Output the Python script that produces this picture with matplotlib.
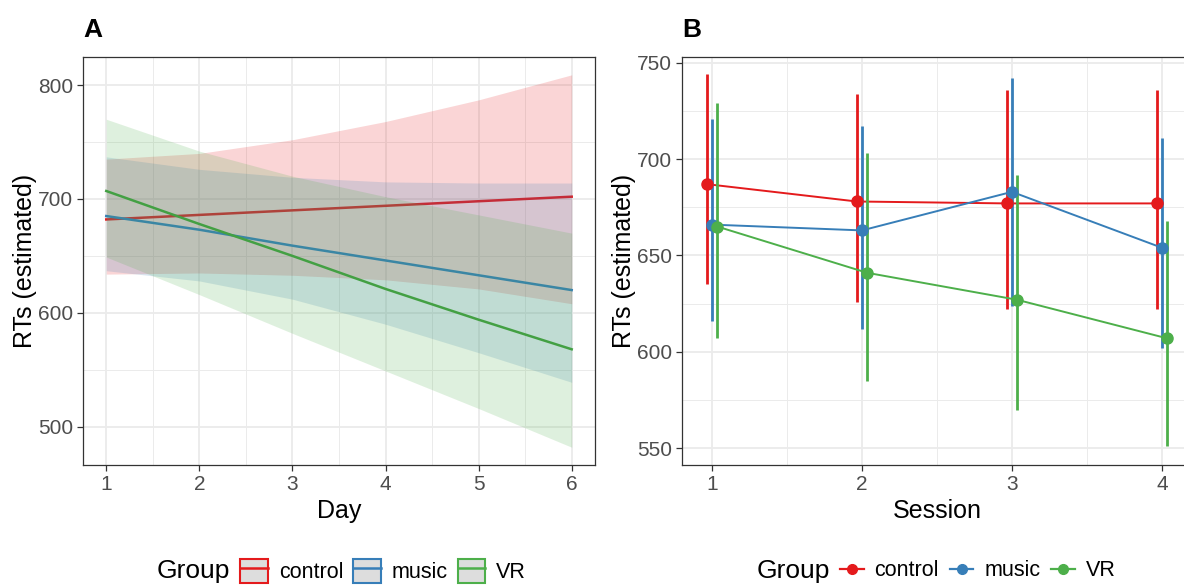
import numpy as np
import matplotlib
matplotlib.use("Agg")
import matplotlib.pyplot as plt
from matplotlib.lines import Line2D
from matplotlib.patches import Patch

plt.rcParams['font.family'] = ['Liberation Sans', 'DejaVu Sans']

# ---- data ----
groups = ["control", "music", "VR"]
colors = ["#E41A1C", "#377EB8", "#4DAF4A"]

# panel A: model estimates per day
days = [1, 2, 3, 4, 5, 6]
control_fit = [682, 686, 690, 694, 698, 702]
control_lo = [634, 635, 633, 629, 621, 608]
control_hi = [735, 740, 752, 768, 787, 809]
music_fit = [685, 673, 659, 646, 633, 620]
music_lo = [637, 628, 612, 590, 565, 539]
music_hi = [737, 726, 719, 715, 714, 714]
vr_fit = [707, 678, 650, 621, 594, 568]
vr_lo = [649, 616, 582, 549, 516, 482]
vr_hi = [770, 742, 720, 702, 686, 670]

# panel B: estimates per session with intervals
sessions = [1, 2, 3, 4]
control_est = [687, 678, 677, 677]
control_low = [635, 626, 622, 622]
control_high = [744, 734, 736, 736]
music_est = [666, 663, 683, 654]
music_low = [616, 612, 624, 602]
music_high = [721, 717, 742, 711]
vr_est = [665, 641, 627, 607]
vr_low = [607, 585, 570, 551]
vr_high = [729, 703, 692, 668]

fig = plt.figure(figsize=(11.84, 5.86), dpi=100)
axA = fig.add_axes([0.0701, 0.2065, 0.4324, 0.6967])
axB = fig.add_axes([0.576, 0.2065, 0.4307, 0.6967])

tick_col = "#4D4D4D"
frame_col = "#333333"


def style(ax):
    ax.set_facecolor("white")
    ax.grid(True, which="major", color="#EBEBEB", lw=1.3, zorder=0)
    ax.grid(True, which="minor", color="#EBEBEB", lw=0.7, zorder=0)
    ax.set_axisbelow(True)
    for sp in ax.spines.values():
        sp.set_color(frame_col)
        sp.set_linewidth(0.9)
    ax.tick_params(which="major", length=4, width=0.9, color=frame_col,
                   labelsize=15, labelcolor=tick_col, pad=3)
    ax.tick_params(which="minor", length=0)


# ---- panel A ----
fits = [(control_fit, control_lo, control_hi),
        (music_fit, music_lo, music_hi),
        (vr_fit, vr_lo, vr_hi)]
line_cols = ["#E41A1C", "#377EB8", "#43A043"]
for (f, lo, hi), c, lc in zip(fits, colors, line_cols):
    axA.fill_between(days, lo, hi, color=c, alpha=0.18, lw=0, zorder=2)
    axA.plot(days, f, color=lc, lw=1.8, zorder=2)

axA.set_xlim(0.75, 6.25)
axA.set_ylim(466.4, 824.9)
axA.set_xticks(days)
axA.set_xticks(np.arange(1.5, 6, 1), minor=True)
axA.set_yticks([500, 600, 700, 800])
axA.set_yticks([550, 650, 750], minor=True)
style(axA)
axA.set_xlabel("Day", fontsize=18, labelpad=4)
axA.set_ylabel("RTs (estimated)", fontsize=18, labelpad=1)

# ---- panel B ----
offsets = [-0.035, 0.0, 0.035]
estB = [(control_est, control_low, control_high),
        (music_est, music_low, music_high),
        (vr_est, vr_low, vr_high)]
for (est, lo, hi), c, off in zip(estB, colors, offsets):
    xs = np.array(sessions) + off
    axB.vlines(xs, lo, hi, color=c, lw=2.0, zorder=3)
    axB.plot(xs, est, color=c, lw=1.4, zorder=3)
    axB.plot(xs, est, "o", color=c, ms=8, zorder=4)

axB.set_xlim(0.8, 4.2)
axB.set_ylim(541.3, 753.1)
axB.set_xticks(sessions)
axB.set_xticks([1.5, 2.5, 3.5], minor=True)
axB.set_yticks([550, 600, 650, 700, 750])
axB.set_yticks([575, 625, 675, 725], minor=True)
style(axB)
axB.set_xlabel("Session", fontsize=18, labelpad=4)
axB.set_ylabel("RTs (estimated)", fontsize=18, labelpad=1)

# panel tags
fig.text(83 / 1184, 1 - 30 / 586, "A", fontsize=19, fontweight="bold", va="center", ha="left")
fig.text(682 / 1184, 1 - 30 / 586, "B", fontsize=19, fontweight="bold", va="center", ha="left")

# ---- legends ----
leg_y = 1 - 571 / 586
handlesA = [(Patch(facecolor="#DDDDDD", edgecolor=c, lw=1.5),
             Line2D([], [], color=c, lw=1.8)) for c in colors]
fig.text(157 / 1184, leg_y, "Group", fontsize=19, va="center", ha="left")
fig.legend(handlesA, groups, loc="center left", bbox_to_anchor=(240 / 1184, leg_y),
           ncol=3, frameon=False, fontsize=15.5, handlelength=1.3, handleheight=1.4,
           handletextpad=0.5, columnspacing=0.45, borderpad=0, borderaxespad=0)

handlesB = [Line2D([], [], color=c, lw=1.6, marker="o", ms=7) for c in colors]
fig.text(757 / 1184, leg_y, "Group", fontsize=19, va="center", ha="left")
fig.legend(handlesB, groups, loc="center left", bbox_to_anchor=(840 / 1184, leg_y),
           ncol=3, frameon=False, fontsize=15.5, handlelength=1.1,
           handletextpad=0.5, columnspacing=0.5, borderpad=0, borderaxespad=0)

fig.savefig("out.png", dpi=100)
